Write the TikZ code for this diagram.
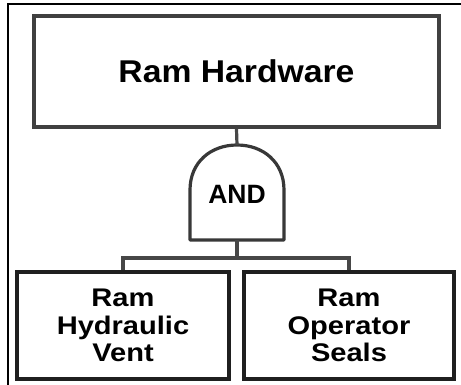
\documentclass[tikz,border=0pt]{standalone}
\usepackage{fontspec}
\setmainfont{Liberation Sans}
\begin{document}
\begin{tikzpicture}[x=1pt,y=-1pt,
  topbox/.style={draw=black!75, line width=3.6pt, rectangle, inner sep=0pt,
    minimum width=405pt, minimum height=111pt},
  leafbox/.style={draw=black!88, line width=4.2pt, rectangle, inner sep=0pt,
    minimum height=107pt, align=center,
    font=\fontsize{25.5}{27.5}\selectfont\bfseries},
  conn/.style={draw=black!72, line width=3.2pt},
  gateline/.style={draw=black!78, line width=3.2pt, line join=round}]
\useasboundingbox (0,0) rectangle (461,385);
% outer frame (cropped)
\draw[line width=2.2pt, black] (8,386) -- (8,4) -- (462,4);
% top event
\node[topbox] (top) at (236.5,71.5) {\fontsize{31.5}{36}\selectfont\bfseries\scalebox{1.07}[1]{Ram Hardware}};
% AND gate
\draw[gateline, fill=white] (190,240) -- (190,190) .. controls (190,162) and (211,145) .. (237,145)
  .. controls (263,145) and (284,162) .. (284,190) -- (284,240) -- cycle;
\coordinate (gtop) at (237,145);
\coordinate (gbot) at (237,240);
\node (gate) at (237,194) {\fontsize{26.5}{30}\selectfont\bfseries\scalebox{1.0}[1]{AND}};
\coordinate (bar) at (237,258);
% leaves
\node[leafbox, minimum width=212pt] (left) at (123,325.5) {\scalebox{1.14}[1]{Ram}\\\scalebox{1.14}[1]{Hydraulic}\\\scalebox{1.14}[1]{Vent}};
\node[leafbox, minimum width=210pt] (right) at (349,325.5) {\scalebox{1.14}[1]{Ram}\\\scalebox{1.14}[1]{Operator}\\\scalebox{1.14}[1]{Seals}};
% connectors
\draw[conn] (top.south) -- (gtop);
\draw[conn] (gbot) -- (bar);
\draw[conn] (left.north) |- (bar) -| (right.north);
\end{tikzpicture}
\end{document}
